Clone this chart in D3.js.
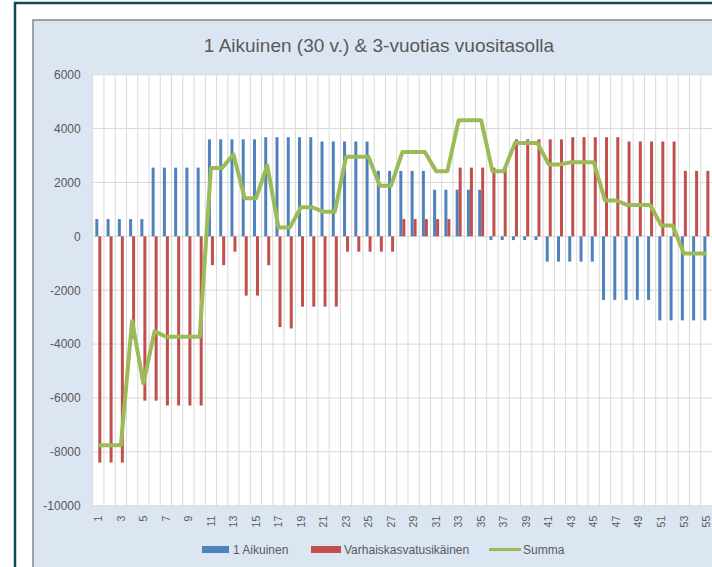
<!DOCTYPE html>
<html>
<head>
<meta charset="utf-8">
<script src="https://cdn.jsdelivr.net/npm/d3@7"></script>
<style>
  html, body { margin: 0; padding: 0; background: #fff; overflow: hidden; }
  svg { display: block; }
  text { font-family: "Liberation Sans", Arial, sans-serif; fill: #595959; }
</style>
</head>
<body>
<div id="chart"></div>
<script>
// Kategoriat (vuodet 1..55)
const categories = ["1","2","3","4","5","6","7","8","9","10","11","12","13","14","15","16","17","18","19","20",
  "21","22","23","24","25","26","27","28","29","30","31","32","33","34","35","36","37","38","39","40",
  "41","42","43","44","45","46","47","48","49","50","51","52","53","54","55"];
const xTickLabels = ["1","3","5","7","9","11","13","15","17","19","21","23","25","27","29","31","33","35","37","39",
  "41","43","45","47","49","51","53","55"];
const yTicks = [-10000, -8000, -6000, -4000, -2000, 0, 2000, 4000, 6000];

// 1 Aikuinen
const aikuinen = [640, 640, 640, 640, 640, 2550, 2550, 2550, 2550, 2550,
  3600, 3600, 3600, 3600, 3600, 3680, 3680, 3680, 3680, 3680,
  3520, 3520, 3520, 3520, 3520, 2430, 2430, 2430, 2430, 2430,
  1730, 1730, 1730, 1730, 1730, -140, -140, -140, -140, -140,
  -940, -940, -940, -940, -940, -2360, -2360, -2360, -2360, -2360,
  -3120, -3120, -3120, -3120, -3120];
// Varhaiskasvatusikäinen
const varhais = [-8400, -8400, -8400, -3800, -6100, -6100, -6280, -6280, -6280, -6280,
  -1070, -1070, -570, -2200, -2200, -1070, -3370, -3420, -2610, -2610,
  -2610, -2610, -570, -570, -570, -570, -570, 640, 640, 640,
  640, 640, 2550, 2550, 2550, 2550, 2550, 3600, 3600, 3600,
  3600, 3600, 3680, 3680, 3680, 3680, 3680, 3520, 3520, 3520,
  3520, 3520, 2430, 2430, 2430];
// Summa
const summa = [-7760, -7760, -7760, -3140, -5460, -3520, -3730, -3730, -3730, -3730,
  2540, 2540, 3040, 1410, 1410, 2630, 330, 330, 1080, 1080,
  910, 910, 2950, 2950, 2950, 1880, 1880, 3130, 3130, 3130,
  2420, 2420, 4310, 4310, 4310, 2420, 2420, 3460, 3460, 3460,
  2670, 2670, 2750, 2750, 2750, 1330, 1330, 1160, 1160, 1160,
  400, 400, -640, -640, -640];

const seriesNames = ["1 Aikuinen", "Varhaiskasvatusikäinen", "Summa"];
const colors = { blue: "#4f81bd", red: "#c0504d", green: "#9bbb59" };

const W = 712, H = 567;
const plot = { left: 92.7, right: 712, top: 74.7, bottom: 505.7 };

const svg = d3.select("#chart").append("svg")
  .attr("width", W).attr("height", H);

// kehys + kaavion tausta (oikea ja alareuna jäävät kuvan ulkopuolelle)
svg.append("rect").attr("x", 0).attr("y", 0).attr("width", W).attr("height", H).attr("fill", "#fff");
svg.append("path")
  .attr("d", `M15,${H + 10} L15,3 L${W + 10},3`)
  .attr("fill", "none").attr("stroke", "#0f4a4c").attr("stroke-width", 2.5);
svg.append("rect").attr("x", 33).attr("y", 20).attr("width", W).attr("height", H)
  .attr("fill", "#dce6f2");
svg.append("path")
  .attr("d", `M33,${H + 10} L33,20 L${W + 10},20`)
  .attr("fill", "none").attr("stroke", "#858585").attr("stroke-width", 1.5);
svg.append("rect").attr("x", plot.left).attr("y", plot.top)
  .attr("width", plot.right - plot.left).attr("height", plot.bottom - plot.top)
  .attr("fill", "#fff");

// skaalat
const x = d3.scaleBand().domain(categories).range([plot.left, plot.right]).padding(0);
const xSub = d3.scaleBand().domain(["a", "v"]).range([0, x.bandwidth()]).paddingOuter(0.88);
const y = d3.scaleLinear().domain([-10000, 6000]).range([plot.bottom, plot.top]);

// ruudukko
const grid = svg.append("g").attr("stroke", "#d9d9d9").attr("stroke-width", 1);
grid.selectAll(".hg").data(yTicks).join("line")
  .attr("x1", plot.left).attr("x2", plot.right)
  .attr("y1", d => y(d)).attr("y2", d => y(d));
grid.selectAll(".vg").data(categories).join("line")
  .attr("x1", d => x(d)).attr("x2", d => x(d))
  .attr("y1", plot.top).attr("y2", plot.bottom);

// pylväät
const barW = xSub.bandwidth();
svg.append("g").selectAll("rect").data(aikuinen).join("rect")
  .attr("x", (d, i) => x(categories[i]) + xSub("a"))
  .attr("width", barW)
  .attr("y", d => y(Math.max(0, d)))
  .attr("height", d => Math.abs(y(d) - y(0)))
  .attr("fill", colors.blue);
svg.append("g").selectAll("rect").data(varhais).join("rect")
  .attr("x", (d, i) => x(categories[i]) + xSub("v"))
  .attr("width", barW)
  .attr("y", d => y(Math.max(0, d)))
  .attr("height", d => Math.abs(y(d) - y(0)))
  .attr("fill", colors.red);

// summa-viiva
const line = d3.line()
  .x((d, i) => x(categories[i]) + x.bandwidth() / 2)
  .y(d => y(d));
svg.append("path").datum(summa)
  .attr("d", line)
  .attr("fill", "none")
  .attr("stroke", colors.green)
  .attr("stroke-width", 4)
  .attr("stroke-linejoin", "round");

// akselit
const yAxis = svg.append("g").attr("transform", `translate(${plot.left},0)`)
  .call(d3.axisLeft(y).tickValues(yTicks).tickSize(0).tickPadding(12).tickFormat(d => String(d)));
yAxis.select(".domain").remove();
yAxis.selectAll("text").style("font-size", "12px").style("font-family", "Liberation Sans, Arial, sans-serif").attr("fill", "#595959");

const xAxis = svg.append("g").attr("transform", `translate(0,${plot.bottom})`)
  .call(d3.axisBottom(x).tickValues(xTickLabels).tickSize(0));
xAxis.select(".domain").remove();
xAxis.selectAll("text")
  .attr("transform", "rotate(-90)")
  .attr("text-anchor", "end")
  .attr("x", -10).attr("y", 0).attr("dy", "0.35em")
  .style("font-size", "10.5px").style("font-family", "Liberation Sans, Arial, sans-serif").attr("fill", "#595959");

// otsikko
svg.append("text").attr("x", 379).attr("y", 52)
  .attr("text-anchor", "middle")
  .style("font-size", "19px")
  .text("1 Aikuinen (30 v.) & 3-vuotias vuositasolla");

// selite
const legend = svg.append("g").style("font-size", "12px");
const legY = 549.5;
legend.append("rect").attr("x", 202).attr("y", legY - 3.5).attr("width", 27).attr("height", 7).attr("fill", colors.blue);
legend.append("text").attr("x", 233).attr("y", legY).attr("dy", "0.35em").text(seriesNames[0]);
legend.append("rect").attr("x", 311).attr("y", legY - 3.5).attr("width", 30).attr("height", 7).attr("fill", colors.red);
legend.append("text").attr("x", 344).attr("y", legY).attr("dy", "0.35em").text(seriesNames[1]);
legend.append("line").attr("x1", 489).attr("x2", 521).attr("y1", legY).attr("y2", legY)
  .attr("stroke", colors.green).attr("stroke-width", 3);
legend.append("text").attr("x", 523).attr("y", legY).attr("dy", "0.35em").text(seriesNames[2]);
</script>
</body>
</html>
